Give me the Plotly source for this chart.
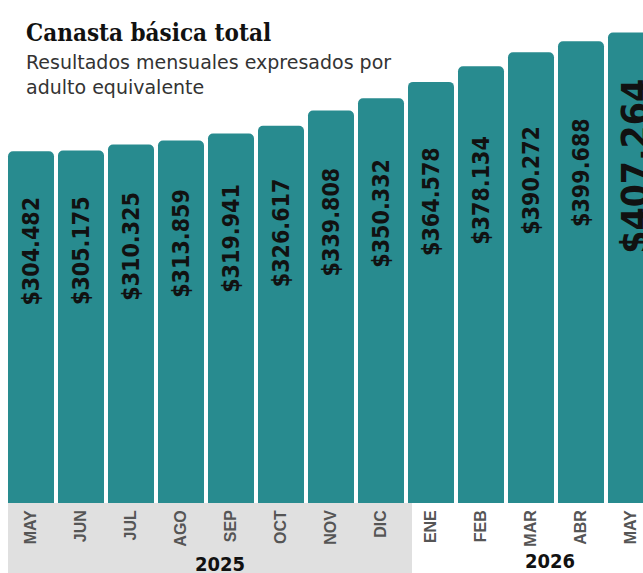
import plotly.graph_objects as go

months = ["MAY", "JUN", "JUL", "AGO", "SEP", "OCT", "NOV", "DIC",
          "ENE", "FEB", "MAR", "ABR", "MAY"]
values = [304482, 305175, 310325, 313859, 319941, 326617, 339808, 350332,
          364578, 378134, 390272, 399688, 407264]
years = ["2025", "2026"]

def fmt(v):
    return "$" + f"{v:,}".replace(",", ".")

xs = list(range(len(values)))
BAR = "#288B8F"
W, H = 643, 573
PH = 503  # plot height in px

fig = go.Figure()
fig.add_trace(go.Bar(
    x=xs, y=values, width=0.92,
    marker=dict(color=BAR, line=dict(width=0)),
    hoverinfo="skip",
))

# value labels
for i, v in enumerate(values):
    last = i == len(values) - 1
    fig.add_annotation(
        x=i, y=v * 0.715, xref="x", yref="y",
        text=fmt(v), showarrow=False, textangle=-90,
        xshift=5 if last else 0,
        font=dict(family="DejaVu Sans Condensed, DejaVu Sans", size=37 if last else 23,
                  color="#111111", weight="bold"),
    )

# gray band for 2025
fig.add_shape(type="rect", xref="x", yref="paper",
              x0=-0.46, x1=7.62, y0=-(H - PH)/PH, y1=0,
              fillcolor="#E0E0E0", line=dict(width=0), layer="below")

fig.add_annotation(x=3.78, y=-47/PH, xref="x", yref="paper", yanchor="top",
                   text=years[0], showarrow=False,
                   font=dict(family="DejaVu Sans Condensed, DejaVu Sans", size=20,
                             color="#111111", weight="bold"))
fig.add_annotation(x=10.38, y=-44/PH, xref="x", yref="paper", yanchor="top",
                   text=years[1], showarrow=False,
                   font=dict(family="DejaVu Sans Condensed, DejaVu Sans", size=20,
                             color="#111111", weight="bold"))

# title and subtitle
fig.add_annotation(x=24/W, y=1-18/H, xref="paper", yref="paper",
                   xanchor="left", yanchor="top", showarrow=False,
                   text="Canasta básica total",
                   font=dict(family="DejaVu Serif Condensed, DejaVu Serif", size=24,
                             color="#111111", weight="bold"))
fig.add_annotation(x=24/W, y=1-56/H, xref="paper", yref="paper",
                   xanchor="left", yanchor="top", align="left", showarrow=False,
                   text="Resultados mensuales expresados por<br>adulto equivalente",
                   font=dict(family="DejaVu Sans", size=19, color="#333333"))

fig.update_layout(
    width=W, height=H,
    margin=dict(l=0, r=0, t=0, b=H - PH),
    paper_bgcolor="white", plot_bgcolor="white",
    barcornerradius=5,
    showlegend=False,
    xaxis=dict(range=[-0.62, -0.62 + W / 50], tickvals=xs, ticktext=months,
               tickangle=-90, showgrid=False, zeroline=False, showline=False,
               ticks="", ticklabelstandoff=3,
               tickfont=dict(family="Liberation Sans, Arial", size=16,
                             color="#555555", weight="bold"),
               fixedrange=True),
    yaxis=dict(range=[0, PH / 0.001155], visible=False, fixedrange=True),
)

fig.write_html("out.html",
               config={"displayModeBar": False, "staticPlot": True},
               post_script="document.body.style.margin='0';"
                           "document.body.style.overflow='hidden';")
